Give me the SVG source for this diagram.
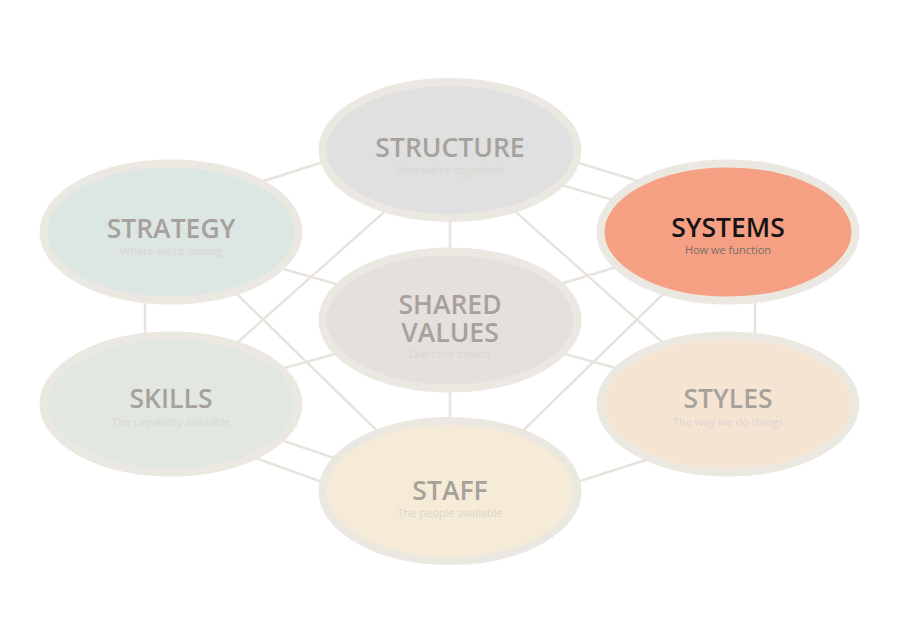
<svg xmlns="http://www.w3.org/2000/svg" width="900" height="636" viewBox="0 0 900 636">
<style>
.bg{fill:#ffffff}
.conn line{stroke:#e8e4dd;stroke-width:2.5;fill:none}
.node ellipse{stroke:#ebe8e1;stroke-width:8}
.title{font-family:"Open Sans","Liberation Sans",sans-serif;font-weight:600;font-size:26.5px;fill:#a7a19c;text-anchor:middle}
.sub{font-family:"Open Sans","Liberation Sans",sans-serif;font-size:11px;fill:#d9d5d0;text-anchor:middle}
.hl .title{fill:#141414}
.hl .sub{fill:#756e68}
</style>
<rect class="bg" width="900" height="636"/>
<g id="connectors" class="conn">
<line x1="220" y1="195" x2="370" y2="147"/>
<line x1="530" y1="148" x2="680" y2="194"/>
<line x1="450" y1="153" x2="728" y2="233"/>
<line x1="450" y1="150" x2="450" y2="490"/>
<line x1="409" y1="190" x2="195" y2="380"/>
<line x1="202" y1="260" x2="407" y2="460"/>
<line x1="230" y1="254" x2="400" y2="302"/>
<line x1="230" y1="383" x2="400" y2="336"/>
<line x1="500" y1="302" x2="670" y2="251"/>
<line x1="491" y1="190" x2="705" y2="380"/>
<line x1="698" y1="260" x2="493" y2="460"/>
<line x1="500" y1="336" x2="670" y2="383"/>
<line x1="230" y1="423" x2="400" y2="480"/>
<line x1="220" y1="445" x2="380" y2="503"/>
<line x1="520" y1="500" x2="690" y2="446"/>
<line x1="145" y1="260" x2="145" y2="380"/>
<line x1="755" y1="260" x2="755" y2="380"/>
</g>
<g id="structure" class="node">
<ellipse cx="450" cy="150" rx="127.5" ry="68" fill="#dfe0df"/>
<text class="title" x="450" y="157">STRUCTURE</text>
<text class="sub" x="450" y="174">How we're organised</text>
</g>
<g id="strategy" class="node">
<ellipse cx="171" cy="232" rx="127.5" ry="68.5" fill="#dce6e3"/>
<text class="title" x="171" y="238">STRATEGY</text>
<text class="sub" x="171" y="255">Where we're aiming</text>
</g>
<g id="systems" class="node hl">
<ellipse cx="728" cy="232" rx="127.5" ry="68.5" fill="#f5a083"/>
<text class="title" x="728" y="237">SYSTEMS</text>
<text class="sub" x="728" y="254">How we function</text>
</g>
<g id="shared-values" class="node">
<ellipse cx="450" cy="320" rx="127.5" ry="68.5" fill="#e5dfde"/>
<text class="title" x="450" y="314">SHARED</text>
<text class="title" x="450" y="342">VALUES</text>
<text class="sub" x="450" y="358">Our core beliefs</text>
</g>
<g id="skills" class="node">
<ellipse cx="171" cy="404" rx="127.5" ry="68.5" fill="#e2e8e1"/>
<text class="title" x="171" y="408">SKILLS</text>
<text class="sub" x="171" y="426">The capability available</text>
</g>
<g id="styles" class="node">
<ellipse cx="728" cy="404" rx="127.5" ry="68.5" fill="#f6e4d3"/>
<text class="title" x="728" y="408">STYLES</text>
<text class="sub" x="728" y="426">The way we do things</text>
</g>
<g id="staff" class="node">
<ellipse cx="450" cy="491" rx="127.5" ry="70" fill="#f6ebd6"/>
<text class="title" x="450" y="500">STAFF</text>
<text class="sub" x="450" y="517">The people available</text>
</g>
</svg>
